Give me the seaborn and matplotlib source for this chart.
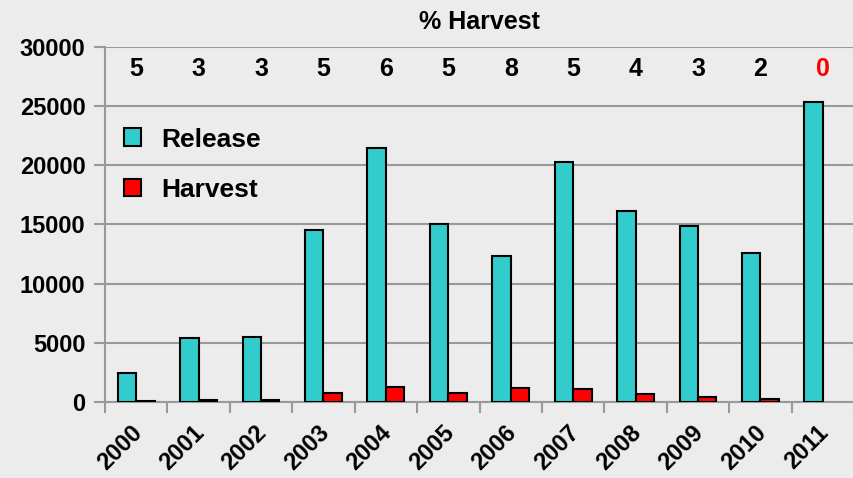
import matplotlib
matplotlib.use("Agg")
import matplotlib.pyplot as plt
import matplotlib.transforms as mtransforms
import seaborn as sns
import pandas as pd
from matplotlib.ticker import MultipleLocator, FixedLocator

years = ["2000", "2001", "2002", "2003", "2004", "2005", "2006", "2007", "2008", "2009", "2010", "2011"]
release = [2450, 5400, 5500, 14550, 21500, 15050, 12350, 20300, 16150, 14900, 12550, 25350]
harvest = [125, 165, 170, 720, 1250, 740, 1150, 1130, 650, 450, 250, 0]
pct_harvest = ["5", "3", "3", "5", "6", "5", "8", "5", "4", "3", "2", "0"]
pct_colors = ["black"] * 11 + ["red"]

sns.set_theme(style="white")
plt.rcParams['font.family'] = ['Liberation Sans', 'DejaVu Sans']
plt.rcParams['font.weight'] = 'bold'
plt.rcParams['text.color'] = 'black'
plt.rcParams['xtick.color'] = 'black'
plt.rcParams['ytick.color'] = 'black'

bg = "#ECECEC"
df = pd.DataFrame({
    "Year": years * 2,
    "Value": release + harvest,
    "Series": ["Release"] * len(years) + ["Harvest"] * len(years),
})

fig = plt.figure(figsize=(8.54, 4.78), dpi=100, facecolor=bg)
ax = fig.add_axes([0.123, 0.159, 0.877, 0.7427])
ax.set_facecolor(bg)

sns.barplot(data=df, x="Year", y="Value", hue="Series",
            palette={"Release": "#33CCCC", "Harvest": "#FF0000"},
            saturation=1, width=0.59, edgecolor="black", linewidth=1.5,
            ax=ax, zorder=3)

for cont in ax.containers:
    for p in cont:
        if p.get_height() == 0:
            p.set_visible(False)

ax.set_ylim(0, 30000)
ax.set_xlim(-0.5, len(years) - 0.5)
ax.yaxis.set_major_locator(MultipleLocator(5000))
ax.grid(axis="y", color="#999999", linewidth=1.5, zorder=0)
ax.set_axisbelow(True)
ax.set_xlabel("")
ax.set_ylabel("")

for s in ["top", "right"]:
    ax.spines[s].set_visible(False)
for s in ["left", "bottom"]:
    ax.spines[s].set_color("#999999")
    ax.spines[s].set_linewidth(1.5)

ax.tick_params(axis="y", which="major", length=8, width=1.5, color="#999999",
               labelcolor="black", labelsize=17, pad=6, left=True)
ax.tick_params(axis="x", which="major", length=0, labelsize=17, pad=14,
               labelcolor="black")
ax.xaxis.set_minor_locator(FixedLocator([i - 0.5 for i in range(len(years) + 1)]))
ax.tick_params(axis="x", which="minor", length=8, width=1.5, color="#999999", bottom=True)
offset = mtransforms.ScaledTranslation(-6 / 100, 0, fig.dpi_scale_trans)
for lab in ax.get_xticklabels():
    lab.set_rotation(45)
    lab.set_ha("right")
    lab.set_rotation_mode("anchor")
    lab.set_fontweight("bold")
    lab.set_transform(lab.get_transform() + offset)
for lab in ax.get_yticklabels():
    lab.set_fontweight("bold")

for i, (p, c) in enumerate(zip(pct_harvest, pct_colors)):
    ax.text(i, 28100, p, ha="center", va="center", fontsize=18,
            fontweight="bold", color=c)

ax.set_title("% Harvest", fontsize=18, fontweight="bold", pad=13, color="black")

leg = ax.legend(loc="upper left", bbox_to_anchor=(-0.006, 0.84), frameon=False,
                fontsize=19, handlelength=0.65, handleheight=0.65,
                labelspacing=1.0, handletextpad=0.75, borderaxespad=0.5)
for t in leg.get_texts():
    t.set_fontweight("bold")
    t.set_color("black")

fig.savefig("out.png", dpi=100, facecolor=bg)
